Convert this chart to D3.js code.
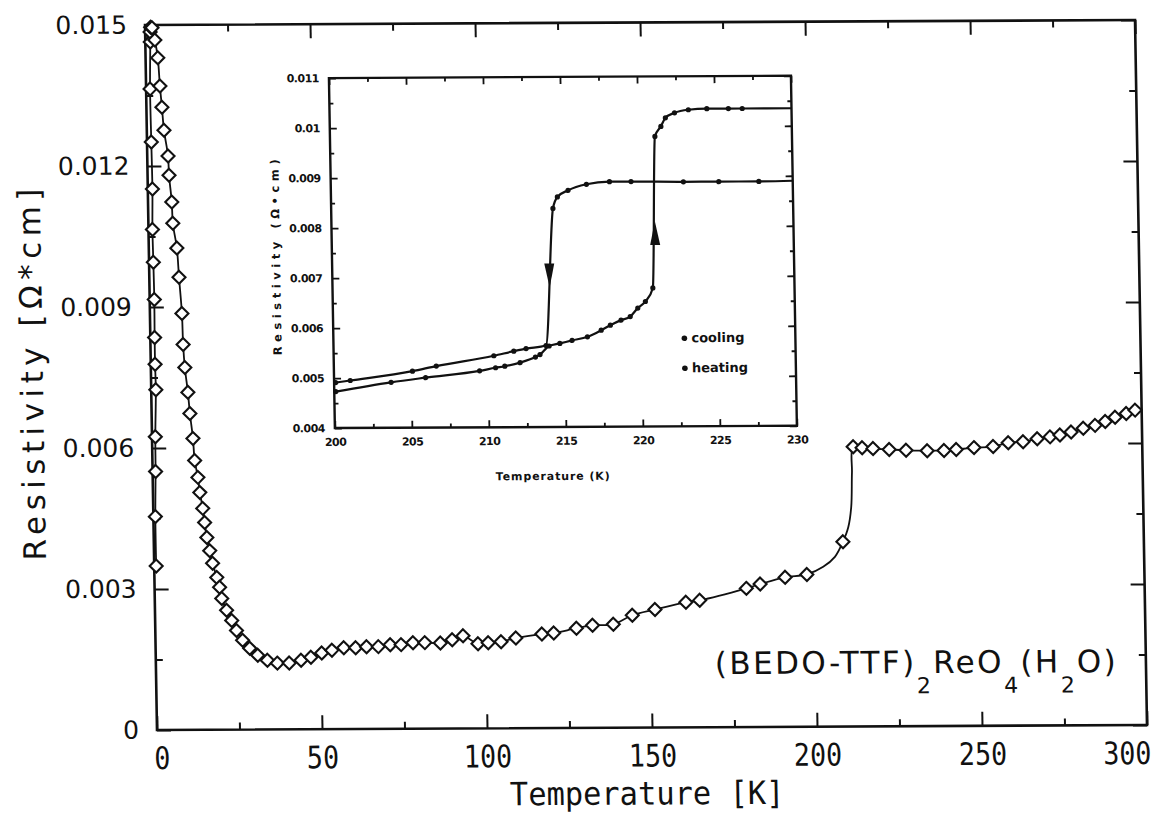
<!DOCTYPE html>
<meta charset="utf-8">
<style>
    body { margin: 0; background: #fff; }
    svg { display: block; }
    text { fill: #111; }
</style>
<body>
<script src="https://cdn.jsdelivr.net/npm/d3@7/dist/d3.min.js"></script>
<script>
// resistivity values are in units of 0.001 Ohm*cm

// low temperature branch, read bottom -> top
var lowTemp = [0.6, 0.6, 0.9, 1.0, 1.4, 1.3, 1.3, 1.4, 1.3, 1.2, 1.4, 1.3, 1.2, 1.5, 1.5, 1.7];
var lowRho  = [3.49, 4.54, 5.50, 6.24, 7.24, 7.78, 8.35, 9.16, 9.95, 10.65, 11.51, 12.51, 13.64, 14.64, 14.85, 14.95];

// the rest of the main curve, read top-left -> right
var mainTemp = [2.1, 2.9, 3.7, 4.2, 4.7, 5.2, 6.3, 6.5, 7.2, 7.4, 8.5, 9.0, 9.7, 9.9, 10.3, 11.1,
    11.6, 12.4, 12.8, 13.7, 14.2, 15.0, 15.5, 16.1, 16.9, 17.7, 18.9, 19.7, 20.3, 21.7, 23.2, 24.6,
    26.4, 28.5, 30.9, 33.8, 36.8, 40.4, 44.0, 47.0, 50.3, 53.4, 57.0, 60.6, 63.9, 67.5, 71.1, 74.4,
    78.0, 81.6, 86.3, 89.9, 93.2, 97.7, 100.8, 104.7, 109.2, 117.1, 120.7, 127.6, 132.5, 138.8,
    144.6, 151.5, 160.9, 165.1, 179.3, 183.5, 191.1, 197.7, 208.8, 212.4, 215.1, 218.4, 223.3,
    228.4, 234.8, 239.9, 243.6, 249.0, 254.8, 259.4, 263.9, 268.2, 272.1, 275.1, 278.5, 282.2,
    285.8, 288.9, 291.9, 295.3, 298.0];
var mainRho = [14.94, 14.68, 14.30, 13.70, 13.25, 12.76, 12.21, 11.80, 11.23, 10.78, 10.25, 9.63,
    8.86, 8.20, 7.71, 7.18, 6.73, 6.20, 5.73, 5.37, 5.05, 4.71, 4.41, 4.09, 3.81, 3.54, 3.24, 3.03,
    2.79, 2.54, 2.32, 2.11, 1.90, 1.73, 1.58, 1.47, 1.41, 1.41, 1.47, 1.53, 1.62, 1.68, 1.73, 1.73,
    1.75, 1.75, 1.79, 1.79, 1.83, 1.83, 1.82, 1.89, 1.97, 1.80, 1.82, 1.84, 1.92, 2.00, 2.02, 2.12,
    2.18, 2.20, 2.39, 2.51, 2.66, 2.70, 2.95, 3.04, 3.18, 3.24, 3.93, 5.95, 5.93, 5.91, 5.89, 5.87,
    5.86, 5.86, 5.88, 5.92, 5.94, 6.02, 6.04, 6.10, 6.14, 6.18, 6.24, 6.32, 6.38, 6.46, 6.55, 6.63, 6.70];

// fitted line through the transition (no markers)
var fitTemp = [202.7, 206.3, 210.5, 211.5, 211.9];
var fitRho  = [3.40, 3.61, 4.24, 4.67, 5.40];

// inset: cooling / heating runs
var coolTemp = [200.1, 201.05, 205.1, 206.65, 210.4, 211.7, 212.5, 213.8, 214.4, 214.7, 215.4, 216.6, 218.1, 219.5, 222.9, 225.2, 227.8];
var coolRho  = [4.91, 4.95, 5.13, 5.23, 5.43, 5.52, 5.57, 5.63, 8.37, 8.60, 8.73, 8.85, 8.90, 8.90, 8.89, 8.89, 8.89];
var heatTemp = [200.1, 203.7, 205.95, 209.46, 210.5, 211.1, 212.1, 213.1, 213.4, 214.0, 214.7, 215.5,
    216.5, 217.4, 218.0, 218.7, 219.3, 219.8, 220.3, 220.8, 221.1, 221.5, 221.8, 222.4, 223.3, 224.5, 225.9, 226.8];
var heatRho  = [4.73, 4.91, 5.00, 5.13, 5.19, 5.22, 5.29, 5.40, 5.45, 5.62, 5.67, 5.73, 5.80, 5.93,
    6.03, 6.13, 6.20, 6.37, 6.50, 6.77, 9.80, 10.00, 10.17, 10.27, 10.33, 10.35, 10.35, 10.35];
var coolEnd = [230, 8.90];
var heatEnd = [230, 10.35];
var arrowTemp = [214.1, 221.0];
var arrowRho  = [7.03, 7.87];
var arrowDir  = ["down", "up"];
var legendLabels = ["cooling", "heating"];

// axes
var xTicks = [0, 50, 100, 150, 200, 250, 300];
var xMinor = [25, 75, 125, 175, 225, 275];
var yTicks = [0, 3, 6, 9, 12, 15];
var yTickLabels = ["0", "0.003", "0.006", "0.009", "0.012", "0.015"];
var yMinor = [1.5, 4.5, 7.5, 10.5, 13.5];
var inXTicks = [200, 205, 210, 215, 220, 225, 230];
var inXMinor = [202.5, 207.5, 212.5, 217.5, 222.5, 227.5];
var inYTicks = [4, 5, 6, 7, 8, 9, 10, 11];
var inYTickLabels = ["0.004", "0.005", "0.006", "0.007", "0.008", "0.009", "0.01", "0.011"];
var inYMinor = [4.5, 5.5, 6.5, 7.5, 8.5, 9.5, 10.5];

var width = 1159, height = 816;
var svg = d3.select("body").append("svg")
    .attr("width", width)
    .attr("height", height);

// the scanned figure is slightly sheared, keep that with one matrix
var page = svg.append("g")
    .attr("transform", "matrix(1,-0.00505,0.017,1,-12.41,0.793)");

var frame = {left: 157, right: 1147, top: 25, bottom: 730};
var x = d3.scaleLinear().domain([0, 300]).range([frame.left, frame.right]);
var y = d3.scaleLinear().domain([0, 15]).range([frame.bottom, frame.top]);

function cleanAxis(sel, w) {
    sel.select(".domain").remove();
    sel.selectAll(".tick line").attr("stroke", "#111").attr("stroke-width", w);
}

// main ticks, all pointing inwards
page.append("g").attr("transform", "translate(0," + frame.bottom + ")")
    .call(d3.axisBottom(x).tickValues(xTicks).tickSize(-14).tickPadding(17).tickFormat(d3.format("d")))
    .call(cleanAxis, 2)
    .selectAll("text")
    .attr("x", function(d) { return d === 300 ? -24 : (d === 0 ? 5 : 0); })
    .attr("transform", "scale(0.86,1)")
    .style("font-family", "'DejaVu Sans Mono', monospace")
    .style("font-size", "31px");
page.append("g").attr("transform", "translate(0," + frame.bottom + ")")
    .call(d3.axisBottom(x).tickValues(xMinor).tickSize(-7).tickFormat(""))
    .call(cleanAxis, 2);
page.append("g").attr("transform", "translate(0," + frame.top + ")")
    .call(d3.axisTop(x).tickValues(xTicks).tickSize(-14).tickFormat(""))
    .call(cleanAxis, 2);
page.append("g").attr("transform", "translate(0," + frame.top + ")")
    .call(d3.axisTop(x).tickValues(xMinor).tickSize(-7).tickFormat(""))
    .call(cleanAxis, 2);

page.append("g").attr("transform", "translate(" + frame.left + ",0)")
    .call(d3.axisLeft(y).tickValues(yTicks).tickSize(-14).tickPadding(18)
        .tickFormat(function(d, i) { return yTickLabels[i]; }))
    .call(cleanAxis, 2)
    .selectAll("text")
    .style("font-family", "'DejaVu Sans', sans-serif")
    .style("font-size", "25px");
page.append("g").attr("transform", "translate(" + frame.left + ",0)")
    .call(d3.axisLeft(y).tickValues(yMinor).tickSize(-7).tickFormat(""))
    .call(cleanAxis, 2);
page.append("g").attr("transform", "translate(" + frame.right + ",0)")
    .call(d3.axisRight(y).tickValues(yTicks).tickSize(-14).tickFormat(""))
    .call(cleanAxis, 2);
page.append("g").attr("transform", "translate(" + frame.right + ",0)")
    .call(d3.axisRight(y).tickValues(yMinor).tickSize(-7).tickFormat(""))
    .call(cleanAxis, 2);

page.append("rect")
    .attr("x", frame.left).attr("y", frame.top)
    .attr("width", frame.right - frame.left).attr("height", frame.bottom - frame.top)
    .attr("fill", "none").attr("stroke", "#111").attr("stroke-width", 2.6);

// axis titles
page.append("text")
    .attr("x", 0).attr("y", 0)
    .attr("text-anchor", "middle")
    .attr("transform", "translate(646,807) scale(0.95,1)")
    .style("font-family", "'DejaVu Sans Mono', monospace")
    .style("font-size", "32px")
    .text("Temperature [K]");

page.append("text")
    .attr("transform", "translate(38,374) rotate(-90)")
    .attr("text-anchor", "middle")
    .attr("dy", "0.35em")
    .attr("textLength", 372)
    .attr("lengthAdjust", "spacing")
    .style("font-family", "'DejaVu Sans', sans-serif")
    .style("font-size", "31px")
    .text("Resistivity [\u03A9*cm]");

// compound label
var formula = page.append("text")
    .attr("x", 716).attr("y", 677)
    .style("font-family", "'DejaVu Sans', sans-serif")
    .style("font-size", "31px")
    .style("letter-spacing", "2.4px");
[["(BEDO-TTF)", 0], ["2", 1], ["ReO", 0], ["4", 1], ["(H", 0], ["2", 1], ["O)", 0]].forEach(function(p, i, arr) {
    var prevSub = i > 0 && arr[i - 1][1];
    var dy = p[1] ? 20 : (prevSub ? -20 : 0);
    formula.append("tspan")
        .attr("dy", dy)
        .style("font-size", p[1] ? "22px" : null)
        .text(p[0]);
});

// main curve
var mainPts = d3.range(mainTemp.length).map(function(i) { return [mainTemp[i], mainRho[i], true]; });
var fitPts = d3.range(fitTemp.length).map(function(i) { return [fitTemp[i], fitRho[i], false]; });
var lowPts = d3.range(lowTemp.length).map(function(i) { return [lowTemp[i], lowRho[i], true]; });
var restPts = mainPts.concat(fitPts).sort(function(a, b) { return a[0] - b[0]; });
// keep the low-T start of the right branch in measuring order
var head = restPts.filter(function(d) { return d[0] < 30; }).sort(function(a, b) { return b[1] - a[1]; });
var tail = restPts.filter(function(d) { return d[0] >= 30; });
var linePts = lowPts.concat(head, tail);

var line = d3.line()
    .x(function(d) { return x(d[0]); })
    .y(function(d) { return y(d[1]); })
    .curve(d3.curveCatmullRom.alpha(0.5));

page.append("path")
    .datum(linePts)
    .attr("d", line)
    .attr("fill", "none")
    .attr("stroke", "#111")
    .attr("stroke-width", 1.8);

var diamond = "M0,-6.5L6.5,0L0,6.5L-6.5,0Z";
page.append("g").selectAll("path")
    .data(lowPts.concat(mainPts))
    .enter().append("path")
    .attr("d", diamond)
    .attr("transform", function(d) { return "translate(" + x(d[0]) + "," + y(d[1]) + ")"; })
    .attr("fill", "#fff")
    .attr("stroke", "#111")
    .attr("stroke-width", 2.1);

// inset
var inFrame = {left: 340, right: 802, top: 79, bottom: 429};
var ix = d3.scaleLinear().domain([200, 230]).range([inFrame.left, inFrame.right]);
var iy = d3.scaleLinear().domain([4, 11]).range([inFrame.bottom, inFrame.top]);
var inset = page.append("g");

inset.append("g").attr("transform", "translate(0," + inFrame.bottom + ")")
    .call(d3.axisBottom(ix).tickValues(inXTicks).tickSize(-7).tickPadding(10).tickFormat(d3.format("d")))
    .call(cleanAxis, 1.8)
    .selectAll("text")
    .style("font-family", "'DejaVu Sans', sans-serif")
    .style("font-weight", "bold")
    .style("font-size", "11px")
    .style("letter-spacing", "-0.5px");
inset.append("g").attr("transform", "translate(0," + inFrame.bottom + ")")
    .call(d3.axisBottom(ix).tickValues(inXMinor).tickSize(-4).tickFormat(""))
    .call(cleanAxis, 1.8);
inset.append("g").attr("transform", "translate(0," + inFrame.top + ")")
    .call(d3.axisTop(ix).tickValues(inXTicks).tickSize(-7).tickFormat(""))
    .call(cleanAxis, 1.8);
inset.append("g").attr("transform", "translate(0," + inFrame.top + ")")
    .call(d3.axisTop(ix).tickValues(inXMinor).tickSize(-4).tickFormat(""))
    .call(cleanAxis, 1.8);
inset.append("g").attr("transform", "translate(" + inFrame.left + ",0)")
    .call(d3.axisLeft(iy).tickValues(inYTicks).tickSize(-7).tickPadding(10)
        .tickFormat(function(d, i) { return inYTickLabels[i]; }))
    .call(cleanAxis, 1.8)
    .selectAll("text")
    .style("font-family", "'DejaVu Sans', sans-serif")
    .style("font-weight", "bold")
    .style("font-size", "11px")
    .style("letter-spacing", "-0.5px");
inset.append("g").attr("transform", "translate(" + inFrame.left + ",0)")
    .call(d3.axisLeft(iy).tickValues(inYMinor).tickSize(-4).tickFormat(""))
    .call(cleanAxis, 1.8);
inset.append("g").attr("transform", "translate(" + inFrame.right + ",0)")
    .call(d3.axisRight(iy).tickValues(inYTicks).tickSize(-7).tickFormat(""))
    .call(cleanAxis, 1.8);
inset.append("g").attr("transform", "translate(" + inFrame.right + ",0)")
    .call(d3.axisRight(iy).tickValues(inYMinor).tickSize(-4).tickFormat(""))
    .call(cleanAxis, 1.8);

inset.append("rect")
    .attr("x", inFrame.left).attr("y", inFrame.top)
    .attr("width", inFrame.right - inFrame.left).attr("height", inFrame.bottom - inFrame.top)
    .attr("fill", "none").attr("stroke", "#111").attr("stroke-width", 2.4);

inset.append("text")
    .attr("x", 557).attr("y", 482)
    .attr("text-anchor", "middle")
    .attr("textLength", 114)
    .attr("lengthAdjust", "spacing")
    .style("font-family", "'DejaVu Sans', sans-serif")
    .style("font-weight", "bold")
    .style("font-size", "11px")
    .text("Temperature (K)");

inset.append("text")
    .attr("transform", "translate(284,258) rotate(-90)")
    .attr("text-anchor", "middle")
    .attr("dy", "0.35em")
    .attr("textLength", 196)
    .attr("lengthAdjust", "spacing")
    .style("font-family", "'DejaVu Sans', sans-serif")
    .style("font-weight", "bold")
    .style("font-size", "11.5px")
    .text("Resistivity (\u03A9\u2022cm)");

var iline = d3.line()
    .x(function(d) { return ix(d[0]); })
    .y(function(d) { return iy(d[1]); })
    .curve(d3.curveMonotoneX);

var coolPts = d3.range(coolTemp.length).map(function(i) { return [coolTemp[i], coolRho[i]]; });
var heatPts = d3.range(heatTemp.length).map(function(i) { return [heatTemp[i], heatRho[i]]; });

[coolPts.concat([coolEnd]), heatPts.concat([heatEnd])].forEach(function(pts) {
    inset.append("path")
        .datum(pts)
        .attr("d", iline)
        .attr("fill", "none")
        .attr("stroke", "#111")
        .attr("stroke-width", 2.2);
});

inset.append("g").selectAll("circle")
    .data(coolPts.concat(heatPts))
    .enter().append("circle")
    .attr("cx", function(d) { return ix(d[0]); })
    .attr("cy", function(d) { return iy(d[1]); })
    .attr("r", 2.6)
    .attr("fill", "#111");

// direction arrows on the jumps
inset.append("g").selectAll("path")
    .data(d3.range(arrowTemp.length))
    .enter().append("path")
    .attr("d", function(i) { return arrowDir[i] === "down" ? "M-5,-12L5,-12L0,12Z" : "M-5,12L5,12L0,-12Z"; })
    .attr("transform", function(i) { return "translate(" + ix(arrowTemp[i]) + "," + iy(arrowRho[i]) + ")"; })
    .attr("fill", "#111");

// legend
var legend = inset.append("g").selectAll("g")
    .data(legendLabels)
    .enter().append("g")
    .attr("transform", function(d, i) { return "translate(691," + (341 + i * 30) + ")"; });
legend.append("circle").attr("r", 2.8).attr("fill", "#111");
legend.append("text")
    .attr("x", 7).attr("dy", "0.3em")
    .style("font-family", "'DejaVu Sans', sans-serif")
    .style("font-weight", "bold")
    .style("font-size", "13px")
    .text(function(d) { return d; });
</script>
</body>
